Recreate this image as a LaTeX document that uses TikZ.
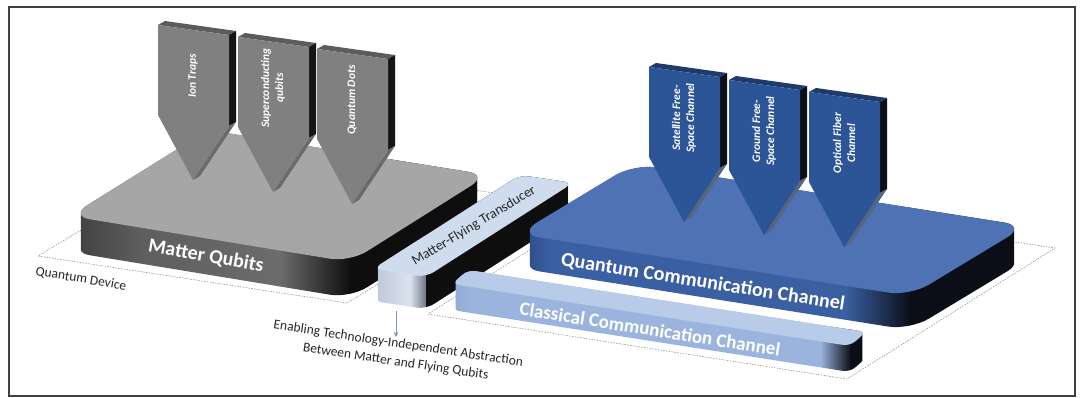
\documentclass[tikz,border=0pt]{standalone}
\usepackage{fontspec}
\setmainfont{Carlito}
\usetikzlibrary{calc,arrows.meta}
\definecolor{mtopc}{HTML}{A6A6A6}
\definecolor{mside1}{HTML}{3A3A3A}
\definecolor{mside2}{HTML}{5E5E5E}
\definecolor{mside3}{HTML}{6C6C6C}
\definecolor{darkface}{HTML}{0E0E0E}
\definecolor{gface}{HTML}{808080}
\definecolor{gtop}{HTML}{5C5C5C}
\definecolor{gside}{HTML}{151515}
\definecolor{gedge}{HTML}{6A6A6A}
\definecolor{bface}{HTML}{2B5597}
\definecolor{btop}{HTML}{1E3B6B}
\definecolor{bside}{HTML}{0B0F18}
\definecolor{bedge}{HTML}{58667C}
\definecolor{qtopc}{HTML}{4E72B3}
\definecolor{qside0}{HTML}{213F77}
\definecolor{qside1}{HTML}{3A5FA3}
\definecolor{qside2}{HTML}{3B60A2}
\definecolor{qdark}{HTML}{0B0E16}
\definecolor{ttopc}{HTML}{CFDCEE}
\definecolor{tend1}{HTML}{AEBBD0}
\definecolor{tend2}{HTML}{DCE3EE}
\definecolor{tend3}{HTML}{6B7485}
\definecolor{ctopc}{HTML}{B8CCE9}
\definecolor{cside0}{HTML}{8AA3CF}
\definecolor{cside1}{HTML}{9BB4DE}
\definecolor{dashc}{HTML}{9A9A9A}
\definecolor{arrowc}{HTML}{7D93B5}
\definecolor{framec}{HTML}{404040}
\newcommand{\ptr}[5]{%
\begin{scope}[shift={(#1,#2)}]
\fill[#3top] (0,0) -- (7,-4) -- (78,6) -- (71,10) -- cycle;
\fill[#3side] (71,10) -- (78,6) -- (78,97) -- (71,101) -- cycle;
\fill[#3edge] (71,101) -- (78,97) -- (42,151) -- (35,155) -- cycle;
\fill[#3face] (0,0) -- (71,10) -- (71,101) -- (35,155) -- (0,90) -- cycle;
\node[ptrtext] (#4) at (35,51) {#5};
\end{scope}}
\begin{document}
\begin{tikzpicture}[x=1pt,y=-1pt,
 dashreg/.style={draw=dashc, line width=0.6pt, dash pattern=on 1.6pt off 1.2pt},
 ptrtext/.style={text=white, font=\bfseries\itshape\fontsize{11.5}{14}\selectfont, align=center, rotate=90, inner sep=0pt},
 bandtext/.style={text=white, font=\bfseries\fontsize{20}{24}\selectfont, inner sep=0pt},
 lbl/.style={text=black!85, font=\fontsize{13.5}{18}\selectfont, align=center, inner sep=0pt}]
\useasboundingbox (0,0) rectangle (1083,398);
\fill[white] (0,0) rectangle (1083,398);

% dashed floor regions
\draw[dashreg] (38,256) -- (347,303) -- (520,197) -- (214,150) -- cycle;
\draw[dashreg] (428,314) -- (847,379) -- (1055,248) -- (633,185) -- cycle;
\node[lbl, rotate=-9.5] (qdev) at (81,279) {Quantum Device};

% Matter qubits slab
\coordinate (mL) at (70,216);
\coordinate (mB) at (208,130);
\coordinate (mR) at (488,175);
\coordinate (mF) at (350,262);
\begin{scope}
\clip[rounded corners=20pt] foreach \s in {0,2,...,36} {($(mB)+(0,\s)$) -- ($(mR)+(0,\s)$) -- ($(mF)+(0,\s)$) -- ($(mL)+(0,\s)$) -- cycle};
\shade[left color=mside1, right color=mside2] (60,110) rectangle (140,330);
\shade[left color=mside2, right color=mside3] (140,110) rectangle (280,330);
\shade[left color=mside3, right color=darkface] (280,110) rectangle (351,330);
\fill[darkface] (350,110) rectangle (500,330);
\end{scope}
\fill[mtopc, rounded corners=20pt] (mB) -- (mR) -- (mF) -- (mL) -- cycle;
\node[bandtext, rotate=-10] (matter) at (206,256) {Matter Qubits};

% grey pointers
\ptr{158}{25}{g}{ion}{Ion Traps}
\ptr{238}{37}{g}{sup}{Superconducting\\qubits}
\ptr{317}{49}{g}{qd}{Quantum Dots}

% transducer
\coordinate (tFL) at (373,269);
\coordinate (tFR) at (426,277);
\coordinate (tBR) at (573,183);
\coordinate (tBL) at (520,175);
\begin{scope}
\clip[rounded corners=9pt] foreach \s in {0,2,...,32} {($(tBL)+(0,\s)$) -- ($(tBR)+(0,\s)$) -- ($(tFR)+(0,\s)$) -- ($(tFL)+(0,\s)$) -- cycle};
\shade[left color=tend1, right color=tend2] (360,160) rectangle (410,330);
\shade[left color=tend2, right color=tend3] (410,160) rectangle (426.5,330);
\fill[darkface] (426,160) rectangle (600,330);
\end{scope}
\fill[ttopc, rounded corners=9pt] (tBL) -- (tBR) -- (tFR) -- (tFL) -- cycle;
\node[rotate=31, text=black!85, font=\fontsize{14}{16}\selectfont, inner sep=0pt] (trans) at (474,226) {Matter-Flying Transducer};

% arrow and explanation
\coordinate (arrS) at (396,311);
\coordinate (arrE) at (396,337);
\draw[arrowc, line width=0.9pt, -{Stealth[length=5pt,width=4.5pt]}] (arrS) -- (arrE);
\node[lbl, rotate=-8.5] (enab) at (397,353) {Enabling Technology-Independent Abstraction\\Between Matter and Flying Qubits};

% quantum communication channel slab
\coordinate (qL) at (518,234);
\coordinate (qB) at (634,164);
\coordinate (qR) at (1026,226);
\coordinate (qF) at (910,296);
\begin{scope}
\clip[rounded corners=22pt] foreach \s in {0,2,...,35} {($(qB)+(0,\s)$) -- ($(qR)+(0,\s)$) -- ($(qF)+(0,\s)$) -- ($(qL)+(0,\s)$) -- cycle};
\shade[left color=qside0, right color=qside1] (505,150) rectangle (550,340);
\shade[left color=qside1, right color=qside2] (550,150) rectangle (845,340);
\shade[left color=qside2, right color=qdark] (845,150) rectangle (911,340);
\fill[qdark] (910,150) rectangle (1040,340);
\end{scope}
\fill[qtopc, rounded corners=22pt] (qB) -- (qR) -- (qF) -- (qL) -- cycle;
\node[bandtext, rotate=-9] (qcc) at (703,282) {Quantum Communication Channel};

% blue pointers
\ptr{649}{67}{b}{sat}{Satellite Free-\\Space Channel}
\ptr{729}{80}{b}{gnd}{Ground Free-\\Space Channel}
\ptr{809}{92}{b}{opt}{Optical Fiber\\Channel}

% classical communication channel
\coordinate (cFL) at (452,284);
\coordinate (cBL) at (468,270);
\coordinate (cBR) at (866,332);
\coordinate (cFR) at (850,346);
\begin{scope}
\clip[rounded corners=7pt] foreach \s in {0,2,...,26} {($(cBL)+(0,\s)$) -- ($(cBR)+(0,\s)$) -- ($(cFR)+(0,\s)$) -- ($(cFL)+(0,\s)$) -- cycle};
\shade[left color=cside0, right color=cside1] (440,260) rectangle (470,390);
\fill[cside1] (470,260) rectangle (820,390);
\shade[left color=cside1, right color=qdark] (820,260) rectangle (851,390);
\fill[qdark] (850,260) rectangle (880,390);
\end{scope}
\fill[ctopc, rounded corners=7pt] (cBL) -- (cBR) -- (cFR) -- (cFL) -- cycle;
\node[bandtext, rotate=-9, font=\bfseries\fontsize{19}{22}\selectfont] (ccc) at (650,329) {Classical Communication Channel};

% frame
\draw[framec, line width=1.3pt] (9,7) rectangle (1075,396);
\end{tikzpicture}
\end{document}
